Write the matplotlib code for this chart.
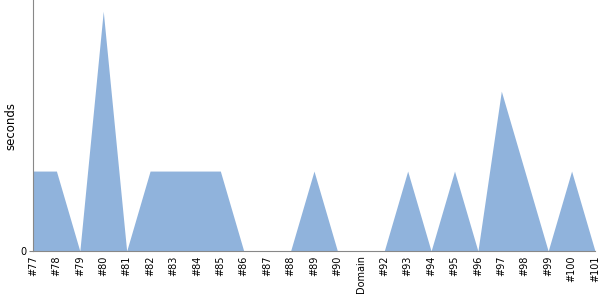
import matplotlib
matplotlib.use("Agg")
import matplotlib.pyplot as plt

labels = ["#77", "#78", "#79", "#80", "#81", "#82", "#83", "#84", "#85", "#86",
          "#87", "#88", "#89", "#90", "Domain", "#92", "#93", "#94", "#95", "#96",
          "#97", "#98", "#99", "#100", "#101"]
seconds = [2, 2, 0, 6, 0, 2, 2, 2, 2, 0,
           0, 0, 2, 0, 0, 0, 2, 0, 2, 0,
           4, 2, 0, 2, 0]

fig = plt.figure(figsize=(6, 3), dpi=100)
ax = fig.add_axes([33 / 600, 49 / 300, 562 / 600, 251 / 300])

x = list(range(len(labels)))
ax.fill_between(x, seconds, 0, color="#90b3dc", linewidth=0)

ax.set_xlim(0, len(labels) - 1)
ax.set_ylim(0, 6.28)
ax.set_xticks(x)
ax.set_xticklabels(labels, rotation=90, fontsize=7)
ax.set_yticks([0])
ax.set_yticklabels(["0"], fontsize=7)
ax.set_ylabel("seconds", fontsize=8.5)
ax.yaxis.set_label_coords(-0.028, 0.5)

for side in ["top", "right"]:
    ax.spines[side].set_visible(False)
for side in ["left", "bottom"]:
    ax.spines[side].set_color("#888888")
ax.tick_params(axis="x", length=0, pad=3)
ax.tick_params(axis="y", length=3, color="#888888", pad=2)

fig.savefig("out.png", dpi=100)
